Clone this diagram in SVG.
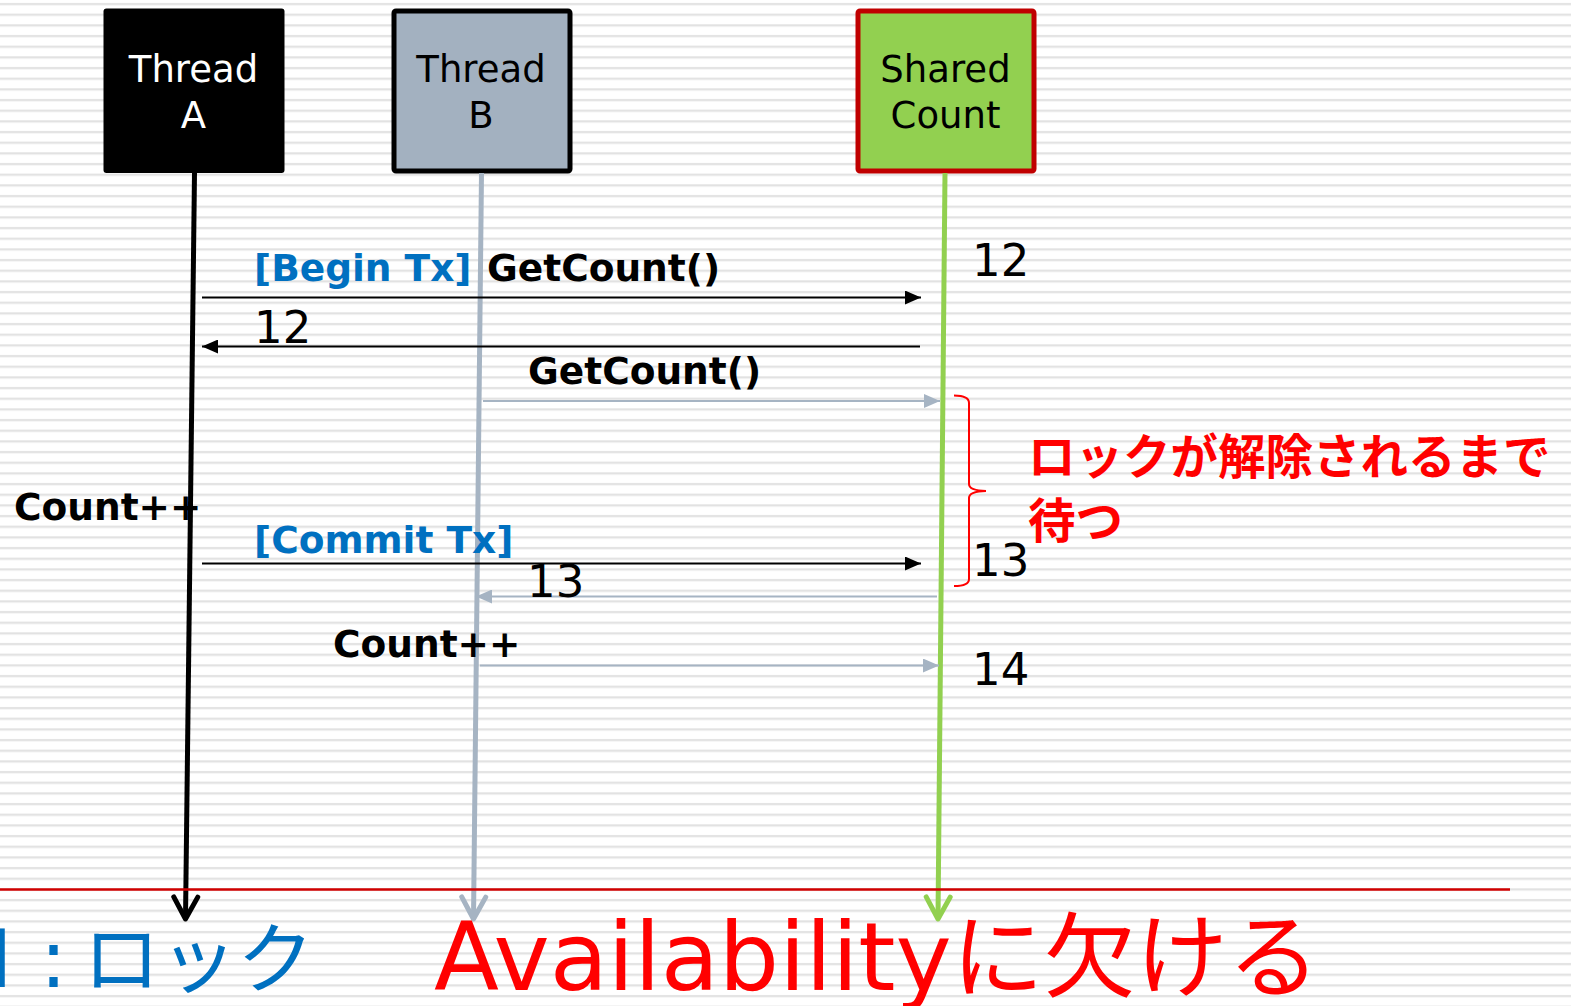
<svg xmlns="http://www.w3.org/2000/svg" width="1571" height="1006" viewBox="0 0 1571 1006">
<defs>
<pattern id="stripes" patternUnits="userSpaceOnUse" x="0" y="0" width="20" height="10.667">
<rect x="0" y="0" width="20" height="10.667" fill="#ffffff"/>
<rect x="0" y="3" width="20" height="2.2" fill="#e2e2e2"/>
</pattern>
<marker id="tri-black" markerUnits="userSpaceOnUse" viewBox="0 0 16 14" refX="16" refY="7" markerWidth="16" markerHeight="14" orient="auto"><path d="M0,0 L16,7 L0,14 z" fill="#000"/></marker>
<marker id="tri-grey" markerUnits="userSpaceOnUse" viewBox="0 0 16 14" refX="16" refY="7" markerWidth="16" markerHeight="14" orient="auto"><path d="M0,0 L16,7 L0,14 z" fill="#a6b4c3"/></marker>
<marker id="chev-black" markerUnits="userSpaceOnUse" viewBox="-30 -20 40 40" refX="0" refY="0" markerWidth="40" markerHeight="40" orient="auto" overflow="visible"><path d="M-22,-12 L0,0 L-22,12" fill="none" stroke="#000" stroke-width="5" stroke-linecap="round" stroke-linejoin="round"/></marker>
<marker id="chev-grey" markerUnits="userSpaceOnUse" viewBox="-30 -20 40 40" refX="0" refY="0" markerWidth="40" markerHeight="40" orient="auto" overflow="visible"><path d="M-22,-12 L0,0 L-22,12" fill="none" stroke="#a6b4c3" stroke-width="5" stroke-linecap="round" stroke-linejoin="round"/></marker>
<marker id="chev-green" markerUnits="userSpaceOnUse" viewBox="-30 -20 40 40" refX="0" refY="0" markerWidth="40" markerHeight="40" orient="auto" overflow="visible"><path d="M-22,-12 L0,0 L-22,12" fill="none" stroke="#92d050" stroke-width="5" stroke-linecap="round" stroke-linejoin="round"/></marker>
</defs>
<style>
.box-text { font-family: "DejaVu Sans", Verdana, sans-serif; font-size: 37px; text-anchor: middle; }
.msg { font-family: "DejaVu Sans", Verdana, sans-serif; font-size: 37.5px; font-weight: bold; fill: #000; }
.blue { fill: #0070c0; }
.num { font-family: "DejaVu Sans", sans-serif; font-size: 45px; fill: #000; }
.jp-red { font-family: "Noto Sans CJK JP", sans-serif; font-size: 47.5px; font-weight: bold; fill: #ff0000; }
.life { fill: none; stroke-width: 5; }
.msg-line { fill: none; stroke-width: 2; }
</style>
<rect x="0" y="0" width="1571" height="1006" fill="url(#stripes)"/>

<g id="thread-a">
<rect x="103.5" y="8.5" width="181" height="164.5" rx="3" fill="#000"/>
<text class="box-text" x="193.5" y="82" fill="#fff">Thread</text>
<text class="box-text" x="193.5" y="128" fill="#fff">A</text>
</g>
<g id="thread-b">
<rect x="394" y="11" width="176" height="160" rx="2" fill="#a3b1c0" stroke="#000" stroke-width="5"/>
<text class="box-text" x="481" y="82" fill="#000">Thread</text>
<text class="box-text" x="481" y="128" fill="#000">B</text>
</g>
<g id="shared-count">
<rect x="858" y="11" width="176" height="160" rx="2" fill="#92d050" stroke="#c00000" stroke-width="5"/>
<text class="box-text" x="945.5" y="82" fill="#000">Shared</text>
<text class="box-text" x="945.5" y="128" fill="#000">Count</text>
</g>

<g id="connectors">
<line class="life" x1="194.5" y1="173" x2="185.5" y2="919" stroke="#000" marker-end="url(#chev-black)"/>
<line class="life" x1="481.5" y1="173" x2="473.5" y2="919" stroke="#a6b4c3" marker-end="url(#chev-grey)"/>
<line class="life" x1="945" y1="173" x2="938" y2="919" stroke="#92d050" marker-end="url(#chev-green)"/>
<line class="msg-line" x1="202" y1="297.5" x2="921" y2="297.5" stroke="#000" marker-end="url(#tri-black)"/>
<line class="msg-line" x1="920" y1="346.5" x2="202" y2="346.5" stroke="#000" marker-end="url(#tri-black)"/>
<line class="msg-line" x1="483" y1="401" x2="940" y2="401" stroke="#a6b4c3" marker-end="url(#tri-grey)"/>
<line class="msg-line" x1="202" y1="563.5" x2="921" y2="563.5" stroke="#000" marker-end="url(#tri-black)"/>
<line class="msg-line" x1="937" y1="596.5" x2="476" y2="596.5" stroke="#a6b4c3" marker-end="url(#tri-grey)"/>
<line class="msg-line" x1="480" y1="665.5" x2="939" y2="665.5" stroke="#a6b4c3" marker-end="url(#tri-grey)"/>
</g>

<g id="labels">
<text class="msg blue" x="254" y="281">[Begin Tx]</text>
<text class="msg" x="487" y="281">GetCount()</text>
<text class="num" x="254" y="343">12</text>
<text class="num" x="972" y="276">12</text>
<text class="msg" x="528" y="384">GetCount()</text>
<text class="msg" x="14" y="520">Count++</text>
<text class="msg blue" x="254" y="553">[Commit Tx]</text>
<text class="num" x="972" y="576">13</text>
<text class="num" x="527" y="597">13</text>
<text class="msg" x="333" y="657">Count++</text>
<text class="num" x="972" y="685">14</text>
</g>

<g id="wait-note">
<path d="M954,395.5 Q969,395.5 969,403 L969,484 Q969,490.5 986,491 Q969,491.5 969,498 L969,579 Q969,586 954,586" fill="none" stroke="#ff0000" stroke-width="2"/>
<text class="jp-red" x="1028" y="474">ロックが解除されるまで</text>
<text class="jp-red" x="1028" y="538">待つ</text>
</g>

<line x1="0" y1="889.5" x2="1510" y2="889.5" stroke="#d00000" stroke-width="2.5"/>

<text x="-11" y="987" fill="#0070c0" font-family="DejaVu Sans, 'Noto Sans CJK JP', sans-serif" font-size="80">I<tspan x="40">:</tspan><tspan x="83" font-family="'Noto Sans CJK JP', sans-serif" font-size="77">ロック</tspan></text>
<text x="434" y="990" fill="#ff0000" font-family="DejaVu Sans, 'Noto Sans CJK JP', sans-serif" font-size="95">Availability<tspan font-family="'Noto Sans CJK JP', sans-serif" font-size="92">に欠ける</tspan></text>
</svg>
